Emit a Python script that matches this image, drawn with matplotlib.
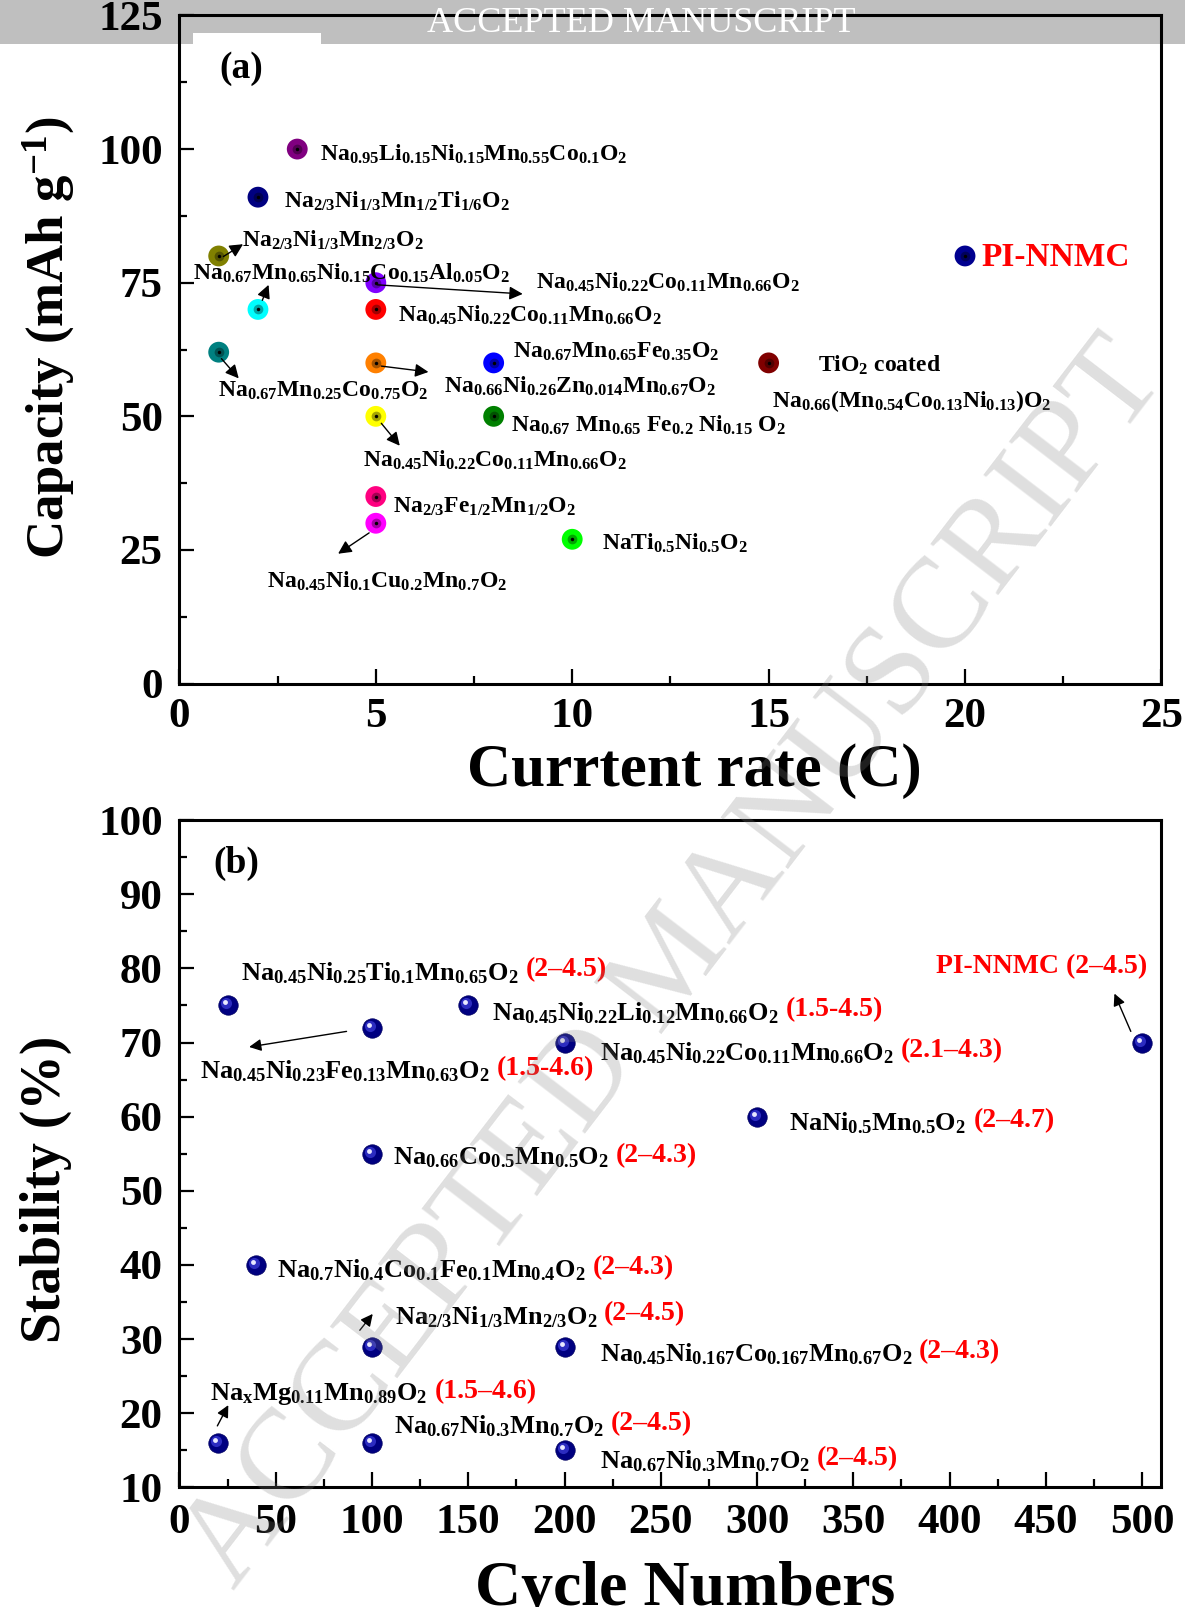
import numpy as np
import matplotlib.pyplot as plt
from matplotlib.patches import Rectangle
from matplotlib.transforms import offset_copy
from matplotlib.ticker import MultipleLocator

plt.rcParams['font.family'] = 'Liberation Serif'
plt.rcParams['font.weight'] = 'bold'
plt.rcParams['mathtext.fontset'] = 'custom'
plt.rcParams['mathtext.rm'] = 'Liberation Serif:bold'
plt.rcParams['mathtext.it'] = 'Liberation Serif:bold'
plt.rcParams['mathtext.bf'] = 'Liberation Serif:bold'
plt.rcParams['mathtext.default'] = 'rm'

# (a) capacity vs current rate
rate_c = [3, 2, 1, 5, 2, 5, 1, 5, 8, 15, 5, 8, 5, 5, 10, 20]
capacity = [100, 91, 80, 75, 70, 70, 62, 60, 60, 60, 50, 50, 35, 30, 27, 80]
rate_colors = ['#800080', '#000080', '#808000', '#8000ff', '#00ffff', '#ff0000',
               '#008080', '#ff8000', '#0000ff', '#800000', '#ffff00', '#008000',
               '#ff0080', '#ff00ff', '#00ff00', '#000090']

# (b) stability vs cycle numbers
cycles = [25, 100, 150, 200, 500, 300, 100, 40, 100, 200, 20, 100, 200]
stability = [75, 72, 75, 70, 70, 60, 55, 40, 29, 29, 16, 16, 15]

fig = plt.figure(figsize=(11.85, 16.07), dpi=100)
ax1 = fig.add_axes([0.1514, 0.5746, 0.8287, 0.4158])
ax2 = fig.add_axes([0.1514, 0.0744, 0.8287, 0.4153])


def style_axis(ax):
    for s in ax.spines.values():
        s.set_linewidth(2.2)
    ax.tick_params(which='both', direction='in', top=False, right=False, width=1.6)
    ax.tick_params(which='major', length=11, labelsize=31)
    ax.tick_params(which='minor', length=6)
    ax.tick_params(axis='x', pad=10)
    ax.tick_params(axis='y', pad=12)


# ---------- panel (a) ----------
ax = ax1
style_axis(ax)
ax.set_xlim(0, 25)
ax.set_ylim(0, 125)
ax.xaxis.set_major_locator(MultipleLocator(5))
ax.xaxis.set_minor_locator(MultipleLocator(2.5))
ax.yaxis.set_major_locator(MultipleLocator(25))
ax.yaxis.set_minor_locator(MultipleLocator(12.5))

ax.scatter(rate_c, capacity, s=15**2, c=rate_colors, zorder=3, linewidths=0)
ax.scatter(rate_c, capacity, s=7**2, c='black', alpha=0.35, zorder=4, linewidths=0)
ax.scatter(rate_c, capacity, s=2.5**2, c='black', zorder=5, linewidths=0)

fs_top = 17
top_labels = [
    ("Na$_{0.95}$Li$_{0.15}$Ni$_{0.15}$Mn$_{0.55}$Co$_{0.1}$O$_2$", 3.58, 99),
    ("Na$_{2/3}$Ni$_{1/3}$Mn$_{1/2}$Ti$_{1/6}$O$_2$", 2.66, 90.3),
    ("Na$_{2/3}$Ni$_{1/3}$Mn$_{2/3}$O$_2$", 1.59, 83.0),
    ("Na$_{0.67}$Mn$_{0.65}$Ni$_{0.15}$Co$_{0.15}$Al$_{0.05}$O$_2$", 0.34, 76.8),
    ("Na$_{0.45}$Ni$_{0.22}$Co$_{0.11}$Mn$_{0.66}$O$_2$", 9.08, 75.1),
    ("Na$_{0.45}$Ni$_{0.22}$Co$_{0.11}$Mn$_{0.66}$O$_2$", 5.56, 68.8),
    ("Na$_{0.67}$Mn$_{0.65}$Fe$_{0.35}$O$_2$", 8.48, 62.0),
    ("Na$_{0.67}$Mn$_{0.25}$Co$_{0.75}$O$_2$", 0.97, 54.7),
    ("Na$_{0.66}$Ni$_{0.26}$Zn$_{0.014}$Mn$_{0.67}$O$_2$", 6.73, 55.6),
    ("TiO$_2$ coated", 16.26, 59.6),
    ("Na$_{0.66}$(Mn$_{0.54}$Co$_{0.13}$Ni$_{0.13}$)O$_2$", 15.08, 52.8),
    ("Na$_{0.67}$ Mn$_{0.65}$ Fe$_{0.2}$ Ni$_{0.15}$ O$_2$", 8.43, 48.3),
    ("Na$_{0.45}$Ni$_{0.22}$Co$_{0.11}$Mn$_{0.66}$O$_2$", 4.67, 41.8),
    ("Na$_{2/3}$Fe$_{1/2}$Mn$_{1/2}$O$_2$", 5.43, 33.0),
    ("Na$_{0.45}$Ni$_{0.1}$Cu$_{0.2}$Mn$_{0.7}$O$_2$", 2.22, 19.2),
    ("NaTi$_{0.5}$Ni$_{0.5}$O$_2$", 10.75, 26.2),
]
for txt, x, y in top_labels:
    ax.text(x, y, txt, fontsize=fs_top, ha='left', va='center', zorder=6)

ax.text(20.43, 79.8, "PI-NNMC", fontsize=24, color='red', ha='left', va='center')
ax.text(1.57, 115, "(a)", fontsize=27, ha='center', va='center')

top_arrows = [
    ((1.12, 79.9), (1.62, 82.2)),
    ((2.11, 71.7), (2.27, 74.6)),
    ((1.07, 60.8), (1.51, 57.1)),
    ((5.04, 74.6), (8.74, 72.9)),
    ((5.14, 59.4), (6.34, 58.3)),
    ((5.14, 48.7), (5.61, 44.5)),
    ((4.83, 28.2), (4.04, 24.3)),
]
for tail, head in top_arrows:
    ax.annotate('', xy=head, xytext=tail,
                arrowprops=dict(arrowstyle='-|>', color='black', lw=1,
                                mutation_scale=20, shrinkA=0, shrinkB=0), zorder=7)

# ---------- panel (b) ----------
ax = ax2
style_axis(ax)
ax.set_xlim(0, 510)
ax.set_ylim(10, 100)
ax.xaxis.set_major_locator(MultipleLocator(50))
ax.xaxis.set_minor_locator(MultipleLocator(25))
ax.yaxis.set_major_locator(MultipleLocator(10))
ax.yaxis.set_minor_locator(MultipleLocator(5))
ax.tick_params(axis='x', pad=12)

ax.plot(cycles, stability, 'o', ms=14, color='#000080', mec='#000060', mew=0.5, zorder=3, clip_on=False)
hl = offset_copy(ax.transData, fig=fig, x=-2, y=2, units='dots')
ax.plot(cycles, stability, 'o', ms=8, color='#2c2cc0', mew=0, zorder=4, transform=hl, clip_on=False)
hl2 = offset_copy(ax.transData, fig=fig, x=-3, y=3, units='dots')
ax.plot(cycles, stability, 'o', ms=3.5, color='#e8e8ff', mew=0, zorder=5, transform=hl2, clip_on=False)

fs_bot = 19
bottom_labels = [
    ("Na$_{0.45}$Ni$_{0.25}$Ti$_{0.1}$Mn$_{0.65}$O$_2$", "(2–4.5)", 32, 79.4),
    ("Na$_{0.45}$Ni$_{0.22}$Li$_{0.12}$Mn$_{0.66}$O$_2$", "(1.5-4.5)", 162.4, 74.0),
    ("Na$_{0.45}$Ni$_{0.23}$Fe$_{0.13}$Mn$_{0.63}$O$_2$", "(1.5-4.6)", 10.6, 66.1),
    ("Na$_{0.45}$Ni$_{0.22}$Co$_{0.11}$Mn$_{0.66}$O$_2$", "(2.1–4.3)", 218.3, 68.6),
    ("NaNi$_{0.5}$Mn$_{0.5}$O$_2$", "(2–4.7)", 316.8, 59.1),
    ("Na$_{0.66}$Co$_{0.5}$Mn$_{0.5}$O$_2$", "(2–4.3)", 110.8, 54.4),
    ("Na$_{0.7}$Ni$_{0.4}$Co$_{0.1}$Fe$_{0.1}$Mn$_{0.4}$O$_2$", "(2–4.3)", 50.6, 39.3),
    ("Na$_{2/3}$Ni$_{1/3}$Mn$_{2/3}$O$_2$", "(2–4.5)", 111.8, 33.0),
    ("Na$_{0.45}$Ni$_{0.167}$Co$_{0.167}$Mn$_{0.67}$O$_2$", "(2–4.3)", 218.3, 28.0),
    ("Na$_x$Mg$_{0.11}$Mn$_{0.89}$O$_2$", "(1.5–4.6)", 16, 22.6),
    ("Na$_{0.67}$Ni$_{0.3}$Mn$_{0.7}$O$_2$", "(2–4.5)", 111.3, 18.2),
    ("Na$_{0.67}$Ni$_{0.3}$Mn$_{0.7}$O$_2$", "(2–4.5)", 218.3, 13.5),
]
for formula, rng, x, y in bottom_labels:
    t = ax.text(x, y, formula, fontsize=fs_bot, ha='left', va='center', zorder=6)
    ax.annotate(rng, xy=(1, 0.5), xycoords=t, xytext=(5, 2), textcoords='offset points',
                fontsize=fs_bot + 1, color='red', ha='left', va='center', zorder=6)

ax.text(393, 80.2, "PI-NNMC (2–4.5)", fontsize=20, color='red', ha='left', va='center')
ax.text(29.8, 94.2, "(b)", fontsize=27, ha='center', va='center')

bottom_arrows = [
    ((86.8, 71.5), (36.2, 69.4)),
    ((494.1, 71.5), (485.6, 76.6)),
    ((93.7, 31.2), (100.4, 33.4)),
    ((19.7, 18.3), (25.4, 21.1)),
]
for tail, head in bottom_arrows:
    ax.annotate('', xy=head, xytext=tail,
                arrowprops=dict(arrowstyle='-|>', color='black', lw=1,
                                mutation_scale=18, shrinkA=0, shrinkB=0), zorder=7)

# axis titles
fig.text(0.041, 0.7896, "Capacity (mAh g$^{-1}$)", fontsize=38, rotation=90, ha='center', va='center')
fig.text(0.5857, 0.5202, "Currtent rate (C)", fontsize=44, ha='center', va='center')
fig.text(0.039, 0.260, "Stability (%)", fontsize=40, rotation=90, ha='center', va='center')
fig.text(0.578, 0.0105, "Cycle Numbers", fontsize=46, ha='center', va='center')

# manuscript header band and watermark
fig.patches.append(Rectangle((0, 1 - 44 / 1607), 1, 44 / 1607, transform=fig.transFigure,
                             color='black', alpha=0.25, lw=0, zorder=10))
fig.patches.append(Rectangle((193 / 1185, 1 - 44 / 1607), 128 / 1185, 11 / 1607,
                             transform=fig.transFigure, color='white', lw=0, zorder=11))
fig.text(641 / 1185, 1 - 24 / 1607, "ACCEPTED MANUSCRIPT", fontsize=26, fontweight='normal',
         color='white', ha='center', va='center', zorder=12)
fig.text(676 / 1185, 1 - 965 / 1607, "ACCEPTED MANUSCRIPT", fontsize=93, fontweight='normal',
         color='#808080', alpha=0.25, rotation=52.5, rotation_mode='anchor',
         ha='center', va='center', zorder=20)

fig.savefig("out.png", dpi=100)
